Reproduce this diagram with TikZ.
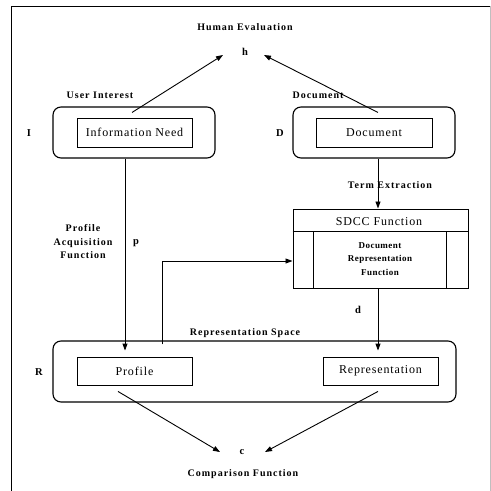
\documentclass[tikz,border=0pt]{standalone}
\usepackage{fontspec}
\setmainfont{Liberation Serif}
\newfontfamily\lblfont[LetterSpace=10]{Liberation Serif}
\newfontfamily\drffont[LetterSpace=5]{Liberation Serif}
\newfontfamily\boxfont[LetterSpace=7]{Liberation Serif}
\usetikzlibrary{arrows.meta,calc}
\tikzset{
  lbl/.style={font=\lblfont\bfseries\fontsize{10}{13.5}\selectfont, inner sep=0pt, align=center},
  smalllbl/.style={font=\drffont\bfseries\fontsize{9}{13.5}\selectfont, inner sep=0pt, align=center},
  letter/.style={font=\bfseries\fontsize{10.5}{12}\selectfont, inner sep=0pt},
  outerbox/.style={draw, line width=1.1pt, rounded corners=8pt, minimum width=162pt, minimum height=51pt, inner sep=0pt},
  innerbox/.style={draw, line width=0.9pt, minimum width=115pt, minimum height=29pt, inner sep=0pt, font=\boxfont\fontsize{12}{14}\selectfont},
  arr/.style={line width=0.9pt, -{Triangle[length=7pt,width=5pt]}},
  conn/.style={line width=0.9pt}
}
\begin{document}
\begin{tikzpicture}[x=1pt,y=-1pt]
\useasboundingbox (0,0) rectangle (491,491);
% frame
\draw[line width=1pt] (11,491) -- (11,6) -- (491,6);
\draw[line width=0.4pt, black!25] (490,6) -- (490,491);

% top
\node[lbl] (he) at (245,27) {Human Evaluation};
\node[letter] (h) at (245,52) {h};
\node[lbl] (ui) at (100,95) {User Interest};
\node[lbl] (dl) at (318,95) {Document};

\node[outerbox] (Iout) at (134,132.5) {};
\node[innerbox] (Iin) at (134.5,132.5) {Information Need};
\node[letter] (Ilab) at (29,133) {I};

\node[outerbox] (Dout) at (374,132.5) {};
\node[innerbox, minimum width=116pt] (Din) at (374,132.5) {Document};
\node[letter] (Dlab) at (280,133) {D};

% SDCC box
\node[draw, line width=1pt, minimum width=175pt, minimum height=79pt, inner sep=0pt] (SDCC) at (380.5,248.5) {};
\coordinate (divL) at ($(SDCC.north west)+(0,23)$);
\coordinate (divR) at ($(SDCC.north east)+(0,23)$);
\draw[line width=1pt] (divL) -- (divR);
\draw[line width=0.9pt] ($(divL)+(21,0)$) -- ($(SDCC.south west)+(21,0)$);
\draw[line width=0.9pt] ($(divR)+(-22,0)$) -- ($(SDCC.south east)+(-22,0)$);
\node[inner sep=0pt, font=\boxfont\fontsize{12}{14}\selectfont] (sdcct) at (379,221.5) {SDCC Function};
\node[smalllbl] (drf) at (380,259) {Document\\Representation\\Function};

\node[lbl] (te) at (390,185) {Term Extraction};
\node[lbl] (paf) at (83,242) {Profile\\Acquisition\\Function};
\node[letter] (p) at (136,243) {p};
\node[letter] (d) at (358,310) {d};

% representation space
\node[lbl] (rs) at (245,333) {Representation Space};
\node[outerbox, minimum width=403pt, minimum height=61pt] (Rout) at (254.5,371.5) {};
\node[innerbox, minimum height=28pt] (prof) at (134.5,371) {Profile};
\node[innerbox, minimum height=28pt] (repr) at (380.5,371) {Representation};
\node[letter] (Rlab) at (39,372) {R};

\node[letter] (c) at (242,452) {c};
\node[lbl] (cf) at (243,474) {Comparison Function};

% connectors
\draw[arr] ($(Iout.north)+(-2,6)$) -- ($(h)+(-22,3)$);
\draw[arr] ($(Dout.north)+(4,6)$) -- ($(h)+(19,3)$);
\draw[arr] ($(Iout.south)+(-9,0)$) -- ($(prof.north)+(-9.5,-6)$);
\draw[arr] ($(Dout.south)+(4,0)$) -- ($(SDCC.north)+(-2.5,0)$);
\draw[arr] ($(Rout.north)+(-92.5,4)$) |- ($(SDCC.west)+(0,12.5)$);
\draw[arr] ($(SDCC.south)+(-2.5,0)$) -- ($(repr.north)+(-2.5,-6)$);
\draw[arr] ($(prof.south)+(-16.5,6)$) -- ($(c)+(-22,0)$);
\draw[arr] ($(repr.south)+(-2.5,6)$) -- ($(c)+(23,0)$);
\end{tikzpicture}
\end{document}
